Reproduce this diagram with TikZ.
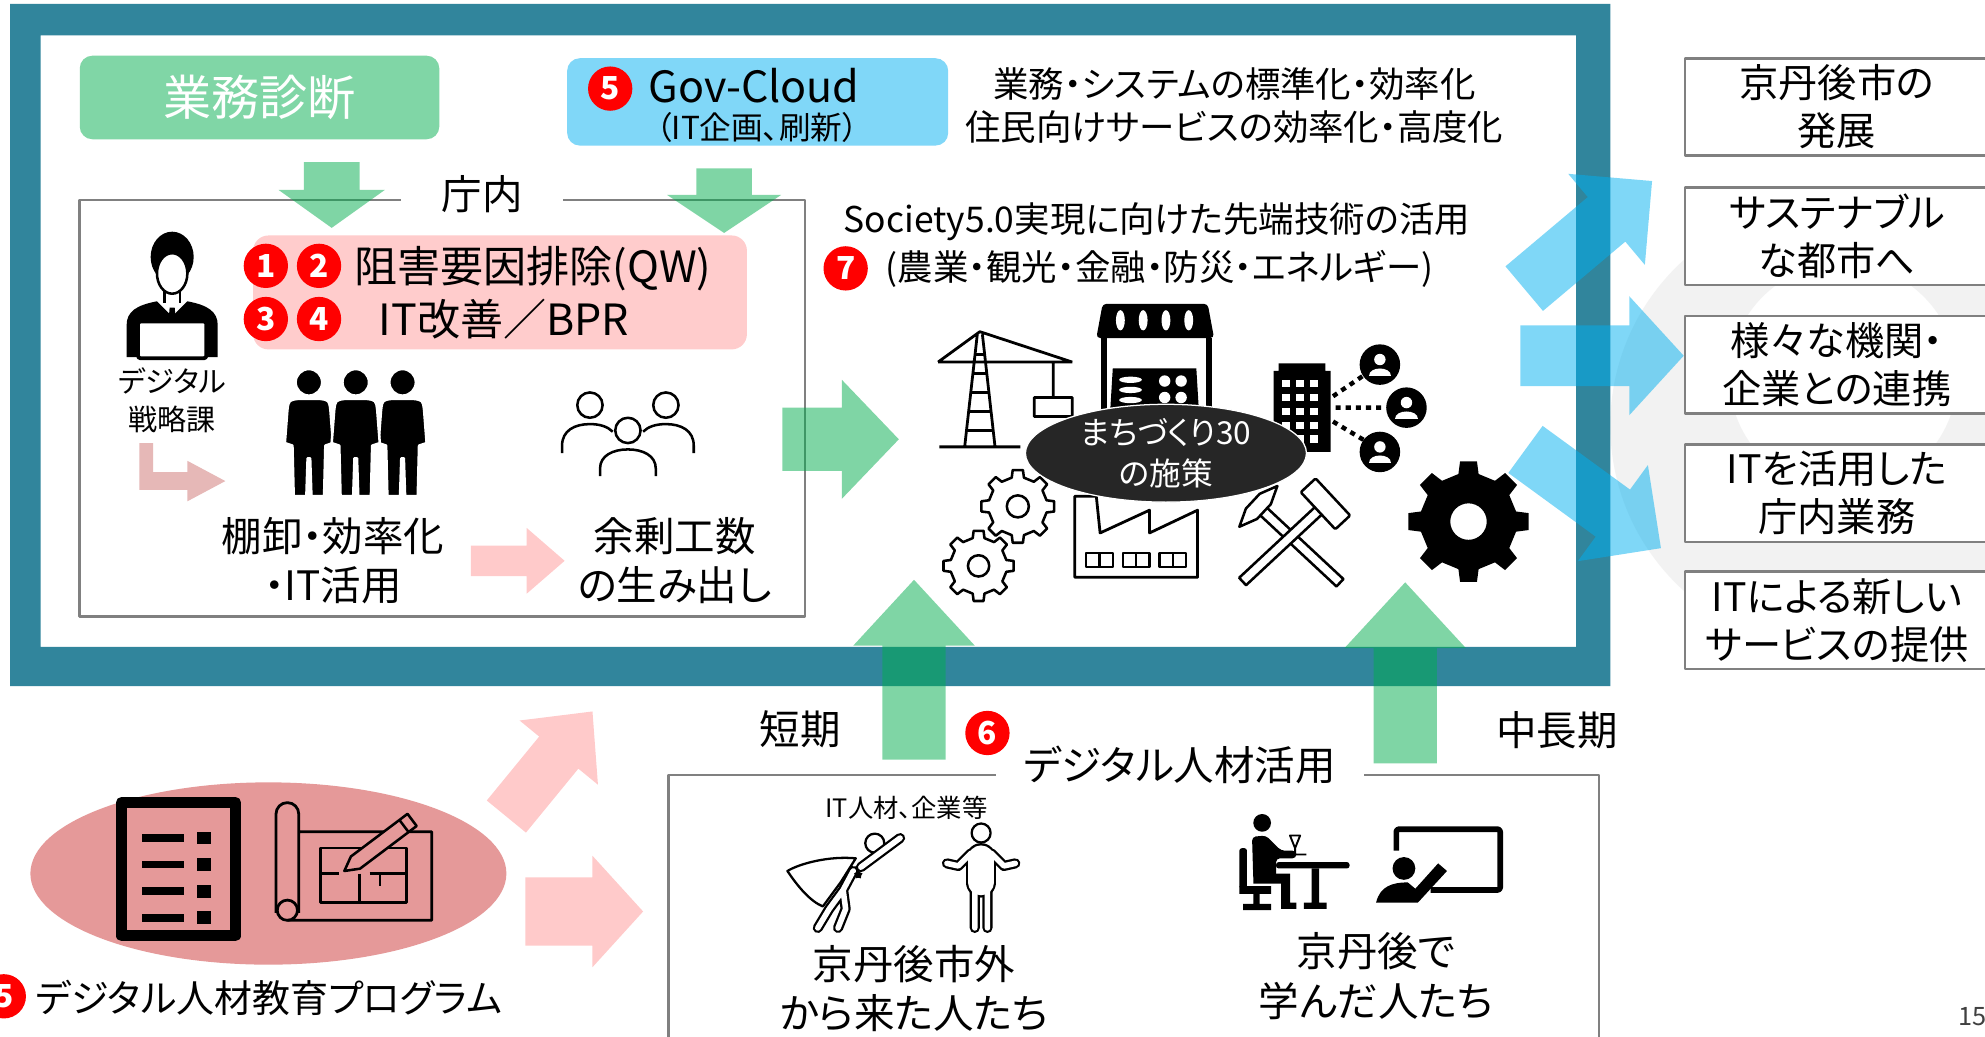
\documentclass[tikz,border=0pt]{standalone}
\usepackage{fontspec}
\setmainfont{Noto Sans CJK JP}[RawFeature=+palt]
\usetikzlibrary{calc,shapes.geometric}

\definecolor{frameteal}{RGB}{49,133,156}
\definecolor{arrgreen}{RGB}{0,173,77}
\definecolor{arrblue}{RGB}{0,176,240}
\definecolor{qwpink}{RGB}{255,204,204}
\definecolor{arrpink}{RGB}{255,202,202}
\definecolor{lpink}{RGB}{230,184,183}
\definecolor{rose}{RGB}{229,153,153}
\definecolor{nightgray}{RGB}{38,38,38}
\definecolor{edgegray}{RGB}{128,128,128}
\definecolor{faintgray}{RGB}{242,242,242}

% block arrow: style, tail, tip, half shaft, half head, head length
\newcommand{\fatarrow}[6]{%
  \coordinate (tail) at (#2);
  \coordinate (tip) at (#3);
  \coordinate (neck) at ($(tip)!#6!(tail)$);
  \fill[#1] ($(tail)!#4!90:(tip)$) -- ($(neck)!#4!90:(tip)$) -- ($(neck)!#5!90:(tip)$)
    -- (tip) -- ($(neck)!#5!-90:(tip)$) -- ($(neck)!#4!-90:(tip)$) -- ($(tail)!#4!-90:(tip)$) -- cycle;
}

\begin{document}
\begin{tikzpicture}[x=1pt, y=-1pt, line join=round,
  txt/.style={font=\fontsize{32}{39}\selectfont, align=center, inner sep=0},
  sml/.style={font=\fontsize{28}{34}\selectfont, align=center, inner sep=0},
  num/.style={circle, fill=red, text=white, inner sep=0, minimum size=35,
    font=\fontsize{25}{25}\selectfont\bfseries},
  goal/.style={draw=edgegray, line width=2, fill=white, anchor=west,
    minimum width=240, minimum height=77, align=center, inner sep=0,
    font=\fontsize{31}{38}\selectfont},
  greenarr/.style={fill=arrgreen, fill opacity=.5},
  bluearr/.style={fill=arrblue, fill opacity=.5},
  pinkarr/.style={fill=arrpink},
  gear/.pic={
    \path[pic actions] (-12:0.8)
      \foreach \i in {0,...,7}{ -- ({\i*45-12}:0.8) -- ({\i*45-8}:1) -- ({\i*45+8}:1) -- ({\i*45+12}:0.8) }
      -- cycle (0,0) circle (0.3);
  }]

\useasboundingbox (0,0) rectangle (1568,819);
\fill[white] (0,0) rectangle (1568,819);
\fill[faintgray, even odd rule] (1448,336) circle (176) (1456,298) circle (90);

% frame
\fill[frameteal, even odd rule] (8,3) rectangle (1272,542) (32,28) rectangle (1245,511);

% top row
\node[fill=arrgreen!50, rounded corners=10, minimum width=284, minimum height=66,
  text=white, font=\fontsize{38}{42}\selectfont] (shindan) at (205,77) {業務診断};
\node[fill=arrblue!50, rounded corners=10, minimum width=301, minimum height=69] (cloud) at (598.5,80.5) {};
\node[num] (n5a) at (482,70) {5};
\node[anchor=west, inner sep=0, font=\fontsize{34}{40}\selectfont] (govname) at (512,68) {Gov-Cloud};
\node[inner sep=0, font=\fontsize{25}{30}\selectfont] (govsub) at (598,101) {（IT企画、刷新）};
\node[sml] (hyojun) at (975,83) {業務・システムの標準化・効率化\\住民向けサービスの効率化・高度化};

% chonai box
\draw[edgegray, line width=2] (63,158) rectangle (636,487);
\node[sml, fill=white, inner xsep=32, inner ysep=3, font=\fontsize{32}{36}\selectfont] (chonai) at (381,153) {庁内};
\fatarrow{greenarr}{262,128}{262,180}{22pt}{42pt}{30pt}
\fatarrow{greenarr}{572,133}{572,184}{22pt}{45pt}{30pt}

\node[fill=qwpink, rounded corners=12, minimum width=390, minimum height=90] (qwbox) at (395,231) {};
\node[num] (n1) at (210,210) {1};
\node[num] (n2) at (252,210) {2};
\node[num] (n3) at (210,252) {3};
\node[num] (n4) at (252,252) {4};
\node[txt, font=\fontsize{34}{40}\selectfont] (qw) at (421,212) {阻害要因排除(QW)};
\node[txt, font=\fontsize{34}{40}\selectfont] (bpr) at (398,252) {IT改善／BPR};

% staff with laptop
\fill (136,203) ellipse (17 and 20);
\filldraw[fill=white, line width=2] (136,216) ellipse (12 and 16);
\draw[line width=2] (130,230) -- (130,239) (142,230) -- (142,239);
\fill (100,282) -- (100,257) .. controls (100,246) and (108,241) .. (124,238) -- (136,250)
  -- (148,238) .. controls (164,241) and (172,246) .. (172,257) -- (172,282) -- cycle;
\fill (134,243) -- (138,243) -- (139,255) -- (136,259) -- (133,255) -- cycle;
\filldraw[fill=white, line width=3, rounded corners=2] (109,254) rectangle (163,283);
\node[font=\fontsize{23}{30}\selectfont, align=center, inner sep=0] (senryaku) at (136,316) {デジタル\\戦略課};
\fill[lpink] (110,350) -- (121,350) -- (121,373) -- (148,373) -- (148,364) -- (178,380)
  -- (148,396) -- (148,387) -- (110,387) -- cycle;

% three staff
\foreach \cx in {244,318,281} {
  \filldraw[fill=black, draw=white, line width=2] (\cx,302) circle (10.5);
  \filldraw[fill=black, draw=white, line width=2] (\cx-19,350) -- (\cx-17,324)
    .. controls (\cx-16,316) .. (\cx-8,315) -- (\cx+8,315) .. controls (\cx+16,316) .. (\cx+17,324)
    -- (\cx+19,350) -- (\cx+13,352) -- (\cx+12,392) -- (\cx+2,392) -- (\cx+1,362) -- (\cx-1,362)
    -- (\cx-2,392) -- (\cx-12,392) -- (\cx-13,352) -- cycle;
}
\node[txt] (tanaoroshi) at (263,443) {棚卸・効率化\\・IT活用};
\fatarrow{pinkarr}{372,443}{446,443}{12pt}{26pt}{30pt}

% spare hands
\draw[line width=2] (466,320) circle (10) (526,320) circle (10) (496,340) circle (10)
  (444,358) -- (444,352) .. controls (444,340) and (454,335) .. (466,335) .. controls (474,335) and (480,337) .. (484,341)
  (548,358) -- (548,352) .. controls (548,340) and (538,335) .. (526,335) .. controls (518,335) and (512,337) .. (508,341)
  (474,376) -- (474,370) .. controls (474,360) and (484,355) .. (496,355) .. controls (508,355) and (518,360) .. (518,370) -- (518,376);
\node[txt] (yojo) at (533,443) {余剰工数\\の生み出し};
\fatarrow{greenarr}{618,347}{710,347}{25pt}{47pt}{45pt}

% society 5.0
\node[sml] (society) at (914,175) {Society5.0実現に向けた先端技術の活用};
\node[num] (n7) at (668,212) {7};
\node[sml] (fields) at (916,212) {(農業・観光・金融・防災・エネルギー)};

% crane
\draw[line width=2.2] (742,353) -- (806,353) (762,353) -- (772,264) (786,353) -- (776,264)
  (741,286) -- (847,286) (741,286) -- (774,262) -- (847,286)
  (832,286) -- (832,314) (817,314) rectangle (847,329)
  (763.5,340) -- (784.5,340) (765,325) -- (783,325) (767,310) -- (781.5,310)
  (768.5,295) -- (779.6,295) (770,280) -- (778,280);
% shop
\fill[rounded corners=3] (866,267) -- (871,240) -- (954,240) -- (959,267) -- cycle;
\foreach \sx in {885,903,921,939} \fill[white] (\sx,253) ellipse (3.5 and 8);
\draw[line width=5] (872,267) -- (872,324) (955,267) -- (955,324);
\fill (879,291) -- (945,291) -- (947,324) -- (877,324) -- cycle;
\fill[white] (893,300) ellipse (9 and 2.5) (893,308) ellipse (9 and 2.5) (893,316) ellipse (9 and 2.5)
  (920,301) circle (4.5) (933,301) circle (4.5) (920,314) circle (4.5) (933,314) circle (4.5);
% office and its network
\fill (1010,287) rectangle (1047,295) (1006,293) rectangle (1051,357);
\foreach \wx in {1013,1024,1035} \foreach \wy in {300,311,322,333,344}
  \fill[white] (\wx,\wy) rectangle (\wx+6,\wy+6);
\draw[line width=3.5, dash pattern=on 4pt off 4pt] (1053,313) -- (1078,296) (1055,322) -- (1095,322) (1053,333) -- (1078,348);
\foreach \px/\py in {1090/288, 1111/322, 1090/357} {
  \fill (\px,\py) circle (16);
  \fill[white] (\px,\py-4) circle (4.5);
  \fill[white] (\px-9,\py+9) .. controls (\px-9,\py+1) and (\px+9,\py+1) .. (\px+9,\py+9) -- cycle;
}
% gears
\pic[draw, line width=2, scale=29] (gearA) at (804,400) {gear};
\pic[draw, line width=2, scale=28] (gearB) at (773,447) {gear};
\pic[fill, even odd rule, scale=48] (gearC) at (1160,412) {gear};
% factory
\draw[line width=2.2] (849,456) -- (849,392) -- (866,392) -- (869,421) -- (908,403) -- (908,421)
  -- (946,403) -- (946,456) -- cycle;
\foreach \wx in {858,887,916} \draw[line width=2] (\wx,437) rectangle (\wx+21,448) (\wx+10.5,437) -- (\wx+10.5,448);
% pick and hammer
\filldraw[fill=white, line width=2, rotate around={137:(1027,431)}] (984,427) rectangle (1070,435);
\filldraw[fill=white, line width=2, rotate around={137:(994,400)}]
  (994,378) -- (1000,392) -- (1000,408) -- (994,422) -- (988,408) -- (988,392) -- cycle;
\filldraw[fill=white, line width=2, rotate around={43:(1013,430)}] (970,426) rectangle (1056,434);
\filldraw[fill=white, line width=2, rounded corners=1, rotate around={43:(1047,398)}] (1039,378) rectangle (1055,418);

\node[ellipse, fill=nightgray, draw=white, line width=1, minimum width=222, minimum height=68, inner sep=0,
  text=white, align=center, font=\fontsize{25}{32}\selectfont] (machi) at (921,358) {まちづくり30\\の施策};

% outcomes
\fatarrow{bluearr}{1204,228}{1305,143}{23pt}{47pt}{47pt}
\fatarrow{bluearr}{1201,281}{1330,281}{24pt}{47pt}{43pt}
\fatarrow{bluearr}{1205,355}{1312,433}{23pt}{47pt}{47pt}
\node[goal] (goal1) at (1330,84.5) {京丹後市の\\発展};
\node[goal] (goal2) at (1330,186.5) {サステナブル\\な都市へ};
\node[goal] (goal3) at (1330,288) {様々な機関・\\企業との連携};
\node[goal] (goal4) at (1330,389.5) {ITを活用した\\庁内業務};
\node[goal] (goal5) at (1330,490) {ITによる新しい\\サービスの提供};

% digital talent
\fatarrow{greenarr}{722,600}{722,458}{25pt}{48pt}{52pt}
\fatarrow{greenarr}{1110,603}{1110,460}{25pt}{48pt}{52pt}
\node[txt] (tanki) at (632,576) {短期};
\node[txt] (chochoki) at (1230,577) {中長期};
\draw[edgegray, line width=2] (528,840) -- (528,612) -- (1263,612) -- (1263,840);
\node[txt, fill=white, inner xsep=22, inner ysep=2] (katsuyo) at (932,604) {デジタル人材活用};
\node[num] (n6) at (780,579) {6};
\node[inner sep=0, font=\fontsize{20}{24}\selectfont] (itjinzai) at (716,638) {IT人材、企業等};
% hero
\filldraw[fill=white, line width=1.8] (676,678) .. controls (655,676) and (632,682) .. (622,688)
  .. controls (630,700) and (640,712) .. (650,716) -- (664,697) -- cycle;
\draw[line width=1.8] (691,666) circle (7.5);
\draw[line width=8, line cap=round] (680,685) -- (711,662) (674,688) -- (666,703) (666,703) -- (655,718) -- (646,733)
  (666,703) -- (668,718) -- (662,733);
\draw[white, line width=4.4, line cap=round] (680,685) -- (711,662) (674,688) -- (666,703) (666,703) -- (655,718) -- (646,733)
  (666,703) -- (668,718) -- (662,733);
\node[star, star points=5, fill, inner sep=0, minimum size=7] (heroStar) at (678,691) {};
% bystander
\draw[line width=1.8] (775,658) circle (7.5);
\draw[line width=24, line cap=round] (775,678) -- (775,697);
\draw[line width=8, line cap=round] (767,674) -- (757,684) -- (748,682) (783,674) -- (793,684) -- (802,682)
  (770,700) -- (770,733) (780,700) -- (780,733);
\draw[white, line width=20.4, line cap=round] (775,678) -- (775,697);
\draw[white, line width=4.4, line cap=round] (767,674) -- (757,684) -- (748,682) (783,674) -- (793,684) -- (802,682)
  (770,700) -- (770,733) (780,700) -- (780,733);
\node[txt] (shigai) at (722,781) {京丹後市外\\から来た人たち};
% student at a desk
\fill (997,650) circle (7);
\fill[rounded corners=3] (989,661) -- (1000,660) -- (1012,672) -- (1024,672) -- (1024,678) -- (1008,678)
  -- (1008,695) -- (990,695) -- cycle;
\fill (990,690) rectangle (1018,698) (1012,690) rectangle (1019,716) (1012,713) rectangle (1024,718);
\fill[rounded corners=2] (979,670) rectangle (985,702);
\fill (979,700) rectangle (1004,706) (990,706) rectangle (995,714) (982,714) rectangle (1004,719);
\fill[rounded corners=2] (1008,681) rectangle (1066,686);
\fill (1036,686) rectangle (1042,714) (1030,713) rectangle (1048,718);
\draw[line width=1.5] (1019,660) -- (1027,660) -- (1023,670) -- cycle (1023,670) -- (1023,674) (1017,675) -- (1032,675);
% teacher
\draw[line width=4.5, rounded corners=2] (1103,672) -- (1103,655) -- (1185,655) -- (1185,703) -- (1130,703);
\fill (1109,686) circle (9);
\fill (1087,713) .. controls (1090,700) and (1100,697) .. (1112,697) -- (1118,702) -- (1136,682)
  -- (1143,688) -- (1120,713) -- cycle;
\node[txt] (manabi) at (1087,771) {京丹後で\\学んだ人たち};

% training program
\fill[rose] (212,690) ellipse (188 and 72);
\draw[line width=9] (96,634) rectangle (186,739);
\foreach \ry in {662,683,704,725} {
  \fill (112,\ry-3) rectangle (145,\ry+3);
  \fill (156,\ry-5) rectangle (167,\ry+5);
}
\draw[line width=2.2] (227,727) -- (341,727) -- (341,657) -- (236,657)
  (218,721) -- (218,643) arc[start angle=180, end angle=0, radius=9pt] -- (236,721);
\draw[line width=2.2] (227,719) circle (8);
\draw[line width=2] (253,670) rectangle (321,713) (253,690) -- (268,690) (284,690) -- (284,713)
  (292,690) -- (321,690) (300,690) -- (300,700);
\filldraw[fill=rose, line width=2, rotate around={37:(272,688)}] (272,688) -- (283,682) -- (339,682)
  -- (339,694) -- (283,694) -- cycle (331,682) -- (331,694);
\node[num] (n5b) at (3,787) {5};
\node[anchor=west, inner sep=0, font=\fontsize{30}{36}\selectfont] (kyoiku) at (28,788) {デジタル人材教育プログラム};
\fatarrow{pinkarr}{400,645}{468,562}{20pt}{40pt}{42pt}
\fatarrow{pinkarr}{415,720}{508,720}{27pt}{44pt}{40pt}

\node[anchor=west, inner sep=0, text=black!75, font=\fontsize{20}{24}\selectfont] (page) at (1547,803) {15};
\end{tikzpicture}
\end{document}
